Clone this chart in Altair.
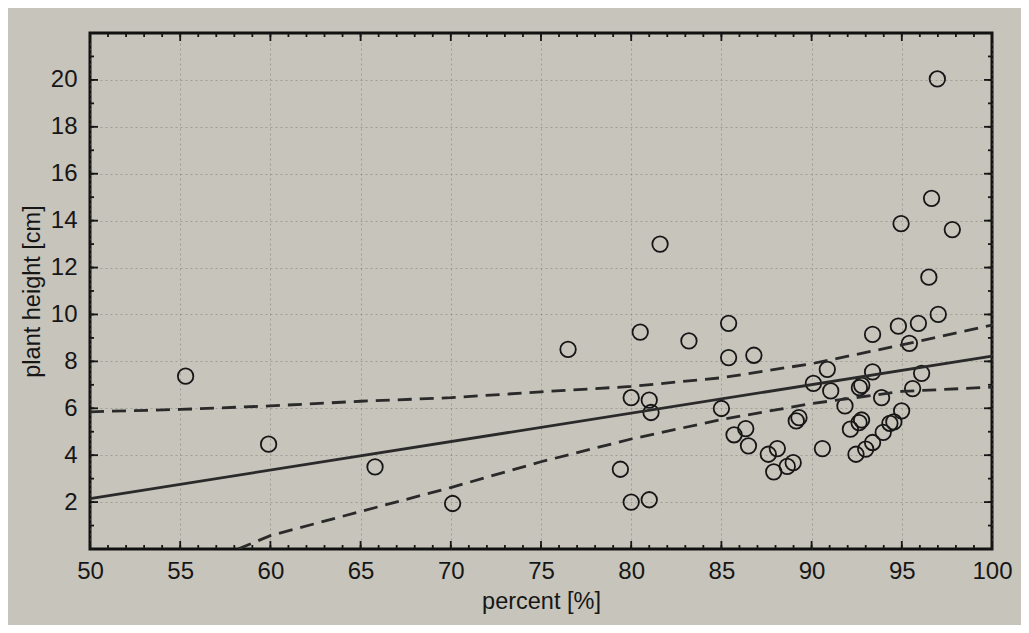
import altair as alt
import pandas as pd

# ---- data ----
pct = [55.3, 59.9, 65.8, 70.1, 76.5, 79.4, 80.0, 81.0, 80.0, 81.0,
       81.1, 80.5, 81.6, 83.2, 85.4, 85.4, 86.8, 85.0, 85.7, 86.35,
       86.5, 87.6, 88.1, 87.9, 88.65, 88.98, 89.15, 89.3, 90.6, 90.1,
       90.87, 91.06, 91.85, 92.15, 92.63, 92.77, 92.46, 93.0, 93.38, 93.97,
       94.34, 94.56, 94.99, 92.65, 92.78, 93.38, 93.88, 95.6, 96.1, 93.38,
       94.81, 95.92, 95.42, 97.02, 96.5, 94.96, 97.8, 96.65, 96.97]
height_cm = [7.37, 4.47, 3.5, 1.94, 8.51, 3.4, 2.0, 2.1, 6.45, 6.35,
             5.82, 9.25, 13.0, 8.87, 9.62, 8.16, 8.26, 5.99, 4.87, 5.13,
             4.4, 4.04, 4.28, 3.29, 3.52, 3.68, 5.46, 5.6, 4.28, 7.06,
             7.66, 6.74, 6.1, 5.11, 5.39, 5.5, 4.04, 4.26, 4.54, 4.97,
             5.36, 5.42, 5.89, 6.88, 6.98, 7.55, 6.45, 6.84, 7.49, 9.15,
             9.5, 9.62, 8.77, 10.0, 11.59, 13.87, 13.62, 14.95, 20.04]

fit_pct = [50, 100]
fit_height = [2.15, 8.22]

upper_pct = [50, 55, 60, 65, 70, 75, 80, 85, 90, 95, 100]
upper_height = [5.85, 5.95, 6.1, 6.3, 6.45, 6.7, 6.93, 7.3, 7.9, 8.7, 9.55]

lower_pct = [58.2, 60, 65, 70, 75, 80, 85, 90, 95, 100]
lower_height = [0.0, 0.57, 1.6, 2.62, 3.72, 4.69, 5.52, 6.2, 6.72, 6.9]

x_major = [50, 55, 60, 65, 70, 75, 80, 85, 90, 95, 100]
x_minor = list(range(50, 101))
y_major = [2, 4, 6, 8, 10, 12, 14, 16, 18, 20]
y_minor = list(range(0, 23))

W, H = 902, 516
BG = "#c6c4bb"
INK = "#161616"
LINE = "#2a2a2a"
FONT = "Liberation Sans"

xs = alt.Scale(domain=[50, 100], nice=False, zero=False)
ys = alt.Scale(domain=[0, 22], nice=False, zero=False)

points_df = pd.DataFrame({"pct": pct, "h": height_cm})
fit_df = pd.DataFrame({"pct": fit_pct, "h": fit_height})
up_df = pd.DataFrame({"pct": upper_pct, "h": upper_height})
lo_df = pd.DataFrame({"pct": lower_pct, "h": lower_height})

grid = dict(grid=True, gridColor="#707069", gridDash=[2, 3], gridWidth=1, gridOpacity=0.45)

ax_x = alt.Axis(
    values=x_major, title="percent [%]", ticks=False, domain=False,
    labelFontSize=24, labelFont=FONT, labelColor=INK, labelPadding=10,
    titleFontSize=23.5, titleFont=FONT, titleColor=INK, titleFontWeight="normal",
    titlePadding=6, labelFlush=False, **grid)
ax_y = alt.Axis(
    values=y_major, title="plant height [cm]", ticks=False, domain=False,
    labelFontSize=24, labelFont=FONT, labelColor=INK, labelPadding=13,
    titleFontSize=23.5, titleFont=FONT, titleColor=INK, titleFontWeight="normal",
    titlePadding=6, labelFlush=False, **grid)

X = lambda f: alt.X(f, scale=xs, axis=ax_x)
Y = lambda f: alt.Y(f, scale=ys, axis=ax_y)

points = alt.Chart(points_df).mark_point(
    shape="circle", filled=False, size=240, stroke=INK, strokeWidth=1.8, opacity=1
).encode(x=X("pct:Q"), y=Y("h:Q"))

fit = alt.Chart(fit_df).mark_line(color=LINE, strokeWidth=2.8).encode(
    x=X("pct:Q"), y=Y("h:Q"))
upper = alt.Chart(up_df).mark_line(color=LINE, strokeWidth=2.8,
                                   strokeDash=[14, 8], clip=True).encode(
    x=X("pct:Q"), y=Y("h:Q"))
lower = alt.Chart(lo_df).mark_line(color=LINE, strokeWidth=2.8,
                                   strokeDash=[14, 8], clip=True).encode(
    x=X("pct:Q"), y=Y("h:Q"))


def xticks(vals, y0, y1):
    return alt.Chart(pd.DataFrame({"pct": vals})).mark_rule(color=INK, strokeWidth=1.8).encode(
        x=X("pct:Q"), y=alt.value(y0), y2=alt.value(y1))


def yticks(vals, x0, x1):
    return alt.Chart(pd.DataFrame({"h": vals})).mark_rule(color=INK, strokeWidth=1.8).encode(
        y=Y("h:Q"), x=alt.value(x0), x2=alt.value(x1))


ticks = [
    xticks(x_minor, H, H - 4), xticks(x_major, H, H - 8),
    xticks(x_minor, 0, 4), xticks(x_major, 0, 8),
    yticks(y_minor, 0, 4), yticks(y_major, 0, 8),
    yticks(y_minor, W, W - 4), yticks(y_major, W, W - 8),
]

chart = alt.layer(points, fit, upper, lower, *ticks).properties(
    width=W, height=H,
    autosize=alt.AutoSizeParams(type="none"),
    padding={"left": 82, "top": 25, "right": 29, "bottom": 76},
    background=BG,
).configure_view(
    fill=BG, stroke="#111111", strokeWidth=3
)

chart.save("out.html", embed_options={"renderer": "svg", "actions": False})
